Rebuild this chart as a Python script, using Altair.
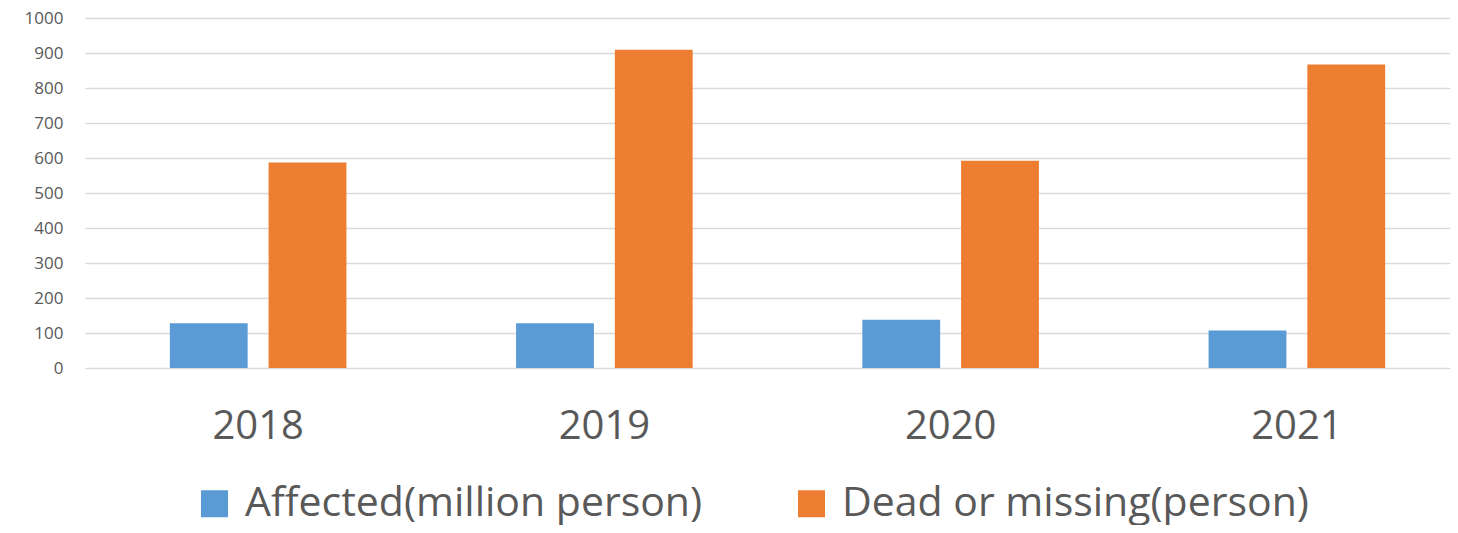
import altair as alt
import pandas as pd

years = ["2018", "2019", "2020", "2021"]
affected = [128, 128, 138, 107]
dead = [587, 909, 592, 867]
series = ["Affected(million person)", "Dead or missing(person)"]
colors = ["#5B9BD5", "#ED7D31"]

rows = []
for i, y in enumerate(years):
    rows.append({"year": y, "series": series[0], "value": affected[i]})
    rows.append({"year": y, "series": series[1], "value": dead[i]})
df = pd.DataFrame(rows)

FONT = "Open Sans"

chart = alt.Chart(df).mark_bar().encode(
    x=alt.X("year:N", sort=years, title=None,
            scale=alt.Scale(paddingInner=0.49, paddingOuter=0.245, range=[0, 1385]),
            axis=alt.Axis(labelAngle=0, labelFontSize=40, labelColor="#595959",
                          labelFont=FONT, ticks=False, domain=False,
                          labelPadding=38, grid=False)),
    xOffset=alt.XOffset("series:N", sort=series,
                        scale=alt.Scale(paddingInner=0.212, paddingOuter=0)),
    y=alt.Y("value:Q", title=None,
            scale=alt.Scale(domain=[0, 1000], nice=False),
            axis=alt.Axis(values=list(range(0, 1001, 100)), format="d",
                          labelFontSize=17,
                          labelColor="#595959", labelFont=FONT, ticks=False,
                          domain=False, labelPadding=22, gridColor="#D9D9D9",
                          gridWidth=1.5)),
    color=alt.Color("series:N", sort=series,
                    scale=alt.Scale(domain=series, range=colors),
                    legend=alt.Legend(title=None, orient="none", direction="horizontal",
                                      legendX=109, legendY=465, symbolType="square",
                                      symbolSize=729, symbolStrokeWidth=0,
                                      labelFontSize=41, labelFont=FONT,
                                      labelColor="#595959", labelLimit=800,
                                      labelOffset=10, columnPadding=88, padding=0)),
).properties(
    width=1365, height=350,
    autosize=alt.AutoSizeParams(type="none"),
    padding={"left": 77, "top": 10, "right": 0, "bottom": 157},
).configure_view(stroke=None)

chart.save("out.html", embed_options={"renderer": "svg", "actions": False})
